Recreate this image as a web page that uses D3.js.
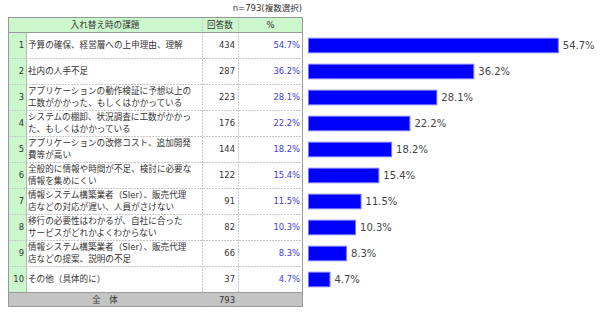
<!DOCTYPE html>
<html><head><meta charset="utf-8">
<script src="https://cdn.jsdelivr.net/npm/d3@7"></script>
<style>
body{margin:0;background:#fff;}
svg{display:block;font-family:"DejaVu Sans","Noto Sans CJK JP",sans-serif;}
</style></head>
<body>
<svg id="c" width="600" height="315"></svg>
<script>
const note = "n=793(複数選択)";
const headers = ["入れ替え時の課題", "回答数", "%"];
const rowNumbers = ["1","2","3","4","5","6","7","8","9","10"];
const categories = [
  ["予算の確保、経営層への上申理由、理解"],
  ["社内の人手不足"],
  ["アプリケーションの動作検証に予想以上の", "工数がかかった、もしくはかかっている"],
  ["システムの棚卸、状況調査に工数がかかっ", "た、もしくはかかっている"],
  ["アプリケーションの改修コスト、追加開発", "費等が高い"],
  ["全般的に情報や時間が不足、検討に必要な", "情報を集めにくい"],
  ["情報システム構築業者（SIer）、販売代理", "店などの対応が遅い、人員がさけない"],
  ["移行の必要性はわかるが、自社に合った", "サービスがどれかよくわからない"],
  ["情報システム構築業者（SIer）、販売代理", "店などの提案、説明の不足"],
  ["その他（具体的に）"]
];
const counts = [434, 287, 223, 176, 144, 122, 91, 82, 66, 37];
const percents = [54.7, 36.2, 28.1, 22.2, 18.2, 15.4, 11.5, 10.3, 8.3, 4.7];
const totalLabel = "全　体";
const totalCount = 793;

const svg = d3.select("#c");
const T = {x0: 8, xNum: 26, xCnt: 202, xPct: 238, x1: 303, yHead: 17, yRows: 32, rowH: 26};
const nRows = counts.length;
const yTotal = T.yRows + nRows * T.rowH;
const yEnd = yTotal + 15;

const y = d3.scaleBand().domain(d3.range(nRows)).range([T.yRows, yTotal]).paddingInner(0).paddingOuter(0);
const yBar = d3.scaleBand().domain(d3.range(nRows)).range([T.yRows, yTotal]).paddingInner(0.44).paddingOuter(0.22);
const x = d3.scaleLinear().domain([0, 60]).range([308, 582]);

// note
svg.append("text").attr("x", T.x1 - 1).attr("y", 11).attr("text-anchor", "end")
  .attr("font-size", 8.5).attr("fill", "#333").text(note);

// header bg
svg.append("rect").attr("x", T.x0).attr("y", T.yHead).attr("width", T.x1 - T.x0).attr("height", T.yRows - T.yHead).attr("fill", "#ccf7cc");
// number column bg
svg.append("rect").attr("x", T.x0).attr("y", T.yRows).attr("width", T.xNum - T.x0).attr("height", yTotal - T.yRows).attr("fill", "#ccf7cc");
// total bg
svg.append("rect").attr("x", T.x0).attr("y", yTotal).attr("width", T.x1 - T.x0).attr("height", yEnd - yTotal).attr("fill", "#c4c4c4");

// row separators
const dash = "2,1";
svg.selectAll(".rs").data(d3.range(1, nRows)).join("line")
  .attr("x1", T.x0).attr("x2", T.x1).attr("y1", i => y(i) + 0.5).attr("y2", i => y(i) + 0.5)
  .attr("stroke", "#c8c8c8").attr("stroke-dasharray", dash);
// column separators
[T.xCnt, T.xPct].forEach(cx => {
  svg.append("line").attr("x1", cx + 0.5).attr("x2", cx + 0.5).attr("y1", T.yHead).attr("y2", yEnd)
    .attr("stroke", "#c8c8c8").attr("stroke-dasharray", dash);
});
svg.append("line").attr("x1", T.xNum + 0.5).attr("x2", T.xNum + 0.5).attr("y1", T.yRows).attr("y2", yTotal)
  .attr("stroke", "#b8b8b8");
// header line & total line
svg.append("line").attr("x1", T.x0).attr("x2", T.x1).attr("y1", T.yRows + 0.5).attr("y2", T.yRows + 0.5).attr("stroke", "#999");
svg.append("line").attr("x1", T.x0).attr("x2", T.x1).attr("y1", yTotal + 0.5).attr("y2", yTotal + 0.5).attr("stroke", "#999");
// outer border
svg.append("rect").attr("x", T.x0 + 0.5).attr("y", T.yHead + 0.5).attr("width", T.x1 - T.x0 - 1).attr("height", yEnd - T.yHead - 1)
  .attr("fill", "none").attr("stroke", "#999");

// header text
const hy = (T.yHead + T.yRows) / 2 + 3;
const fs = 8.4;
const fsJ = 8.6;
svg.append("text").attr("x", (T.x0 + T.xCnt) / 2).attr("y", hy).attr("text-anchor", "middle").attr("font-size", fsJ).attr("fill", "#333").text(headers[0]);
svg.append("text").attr("x", (T.xCnt + T.xPct) / 2).attr("y", hy).attr("text-anchor", "middle").attr("font-size", fsJ).attr("fill", "#333").text(headers[1]);
svg.append("text").attr("x", (T.xPct + T.x1) / 2).attr("y", hy).attr("text-anchor", "middle").attr("font-size", fs).attr("fill", "#333").text(headers[2]);

const rows = svg.selectAll(".row").data(d3.range(nRows)).join("g");
rows.append("text").attr("x", T.xNum - 2).attr("y", i => y(i) + y.bandwidth() / 2 + 3)
  .attr("text-anchor", "end").attr("font-size", fs).attr("fill", "#333").text(i => rowNumbers[i]);
rows.each(function(i) {
  const lines = categories[i];
  const lh = 12.5;
  const cy = y(i) + y.bandwidth() / 2 + 3 - (lines.length - 1) * lh / 2;
  const t = d3.select(this).append("text").attr("font-size", fsJ).attr("fill", "#333");
  lines.forEach((l, k) => t.append("tspan").attr("x", T.xNum + 2).attr("y", cy + k * lh).text(l));
});
rows.append("text").attr("x", T.xPct - 3).attr("y", i => y(i) + y.bandwidth() / 2 + 3)
  .attr("text-anchor", "end").attr("font-size", fs).attr("fill", "#333").text(i => counts[i]);
rows.append("text").attr("x", T.x1 - 3).attr("y", i => y(i) + y.bandwidth() / 2 + 3)
  .attr("text-anchor", "end").attr("font-size", fs).attr("fill", "#4040d8").text(i => percents[i].toFixed(1) + "%");

// total
svg.append("text").attr("x", (T.x0 + T.xCnt) / 2).attr("y", yTotal + 11).attr("text-anchor", "middle").attr("font-size", fsJ).attr("fill", "#333").text(totalLabel);
svg.append("text").attr("x", T.xPct - 3).attr("y", yTotal + 11).attr("text-anchor", "end").attr("font-size", fs).attr("fill", "#333").text(totalCount);

// bars
svg.selectAll(".bar").data(d3.range(nRows)).join("rect")
  .attr("x", x(0) + 0.5).attr("y", i => yBar(i) + 0.5)
  .attr("width", i => x(percents[i]) - x(0)).attr("height", yBar.bandwidth())
  .attr("fill", "#0000ff").attr("stroke", "#7a7aff").attr("stroke-width", 1);
svg.selectAll(".bl").data(d3.range(nRows)).join("text")
  .attr("x", i => x(percents[i]) + 5).attr("y", i => yBar(i) + yBar.bandwidth() / 2 + 4)
  .attr("font-size", 10).attr("fill", "#444").text(i => percents[i].toFixed(1) + "%");
</script>
</body></html>
